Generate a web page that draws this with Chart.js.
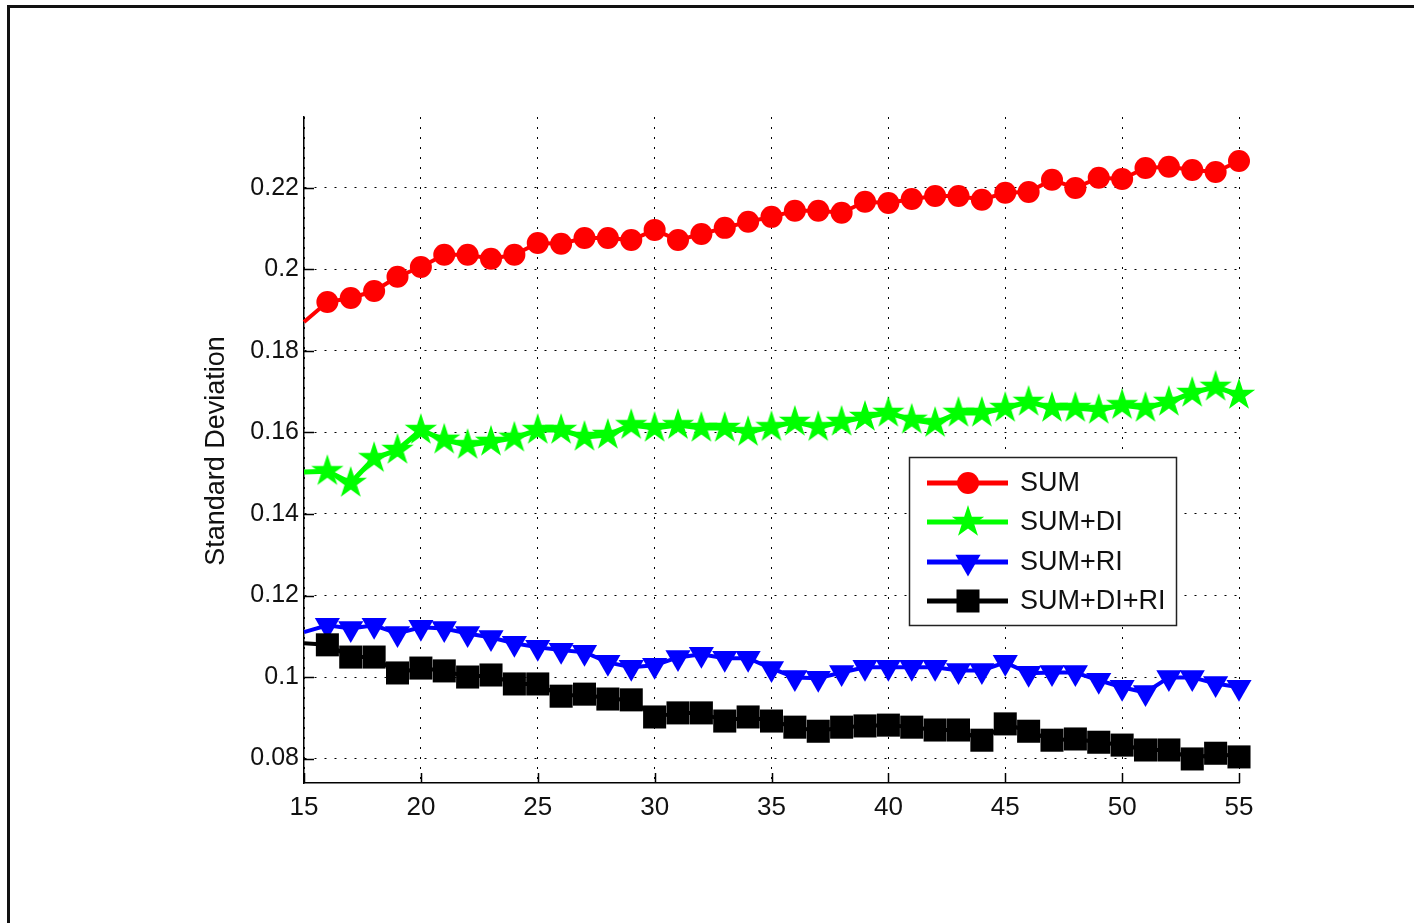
<!DOCTYPE html>
<html>
<head>
<meta charset="utf-8">
<script src="https://cdn.jsdelivr.net/npm/chart.js@4.4.1/dist/chart.umd.min.js"></script>
<style>
  html, body { margin: 0; padding: 0; background: #fff; overflow: hidden; }
  #wrap { position: relative; width: 1414px; height: 923px; }
  #frame { position: absolute; left: 7px; top: 5px; width: 1420px; height: 930px;
           border-left: 3px solid #111; border-top: 3px solid #111; pointer-events: none; }
  canvas { position: absolute; left: 0; top: 0; }
</style>
</head>
<body>
<div id="wrap">
  <canvas id="chart" width="1414" height="923"></canvas>
  <div id="frame"></div>
</div>
<script>
// ── Data ─────────────────────────────────────────────────────────────────────
const xValues = [15, 16, 17, 18, 19, 20, 21, 22, 23, 24, 25, 26, 27, 28, 29, 30, 31, 32, 33, 34, 35,
                 36, 37, 38, 39, 40, 41, 42, 43, 44, 45, 46, 47, 48, 49, 50, 51, 52, 53, 54, 55];

const sumValues = [0.1871, 0.1920, 0.1930, 0.1947, 0.1982, 0.2006, 0.2036, 0.2036, 0.2026, 0.2036, 0.2065,
                   0.2063, 0.2077, 0.2077, 0.2072, 0.2097, 0.2072, 0.2087, 0.2102, 0.2117, 0.2129,
                   0.2144, 0.2144, 0.2139, 0.2166, 0.2163, 0.2173, 0.2180, 0.2180, 0.2171, 0.2188,
                   0.2190, 0.2220, 0.2200, 0.2225, 0.2222, 0.2249, 0.2252, 0.2244, 0.2239, 0.2266];

const sumDiValues = [0.1503, 0.1505, 0.1476, 0.1537, 0.1557, 0.1606, 0.1582, 0.1569, 0.1577, 0.1587, 0.1606,
                     0.1606, 0.1589, 0.1594, 0.1618, 0.1611, 0.1618, 0.1611, 0.1611, 0.1601, 0.1613,
                     0.1626, 0.1613, 0.1626, 0.1638, 0.1648, 0.1631, 0.1623, 0.1648, 0.1648, 0.1660,
                     0.1675, 0.1660, 0.1660, 0.1655, 0.1667, 0.1660, 0.1675, 0.1697, 0.1712, 0.1692];

const sumRiValues = [0.1110, 0.1127, 0.1119, 0.1127, 0.1107, 0.1122, 0.1119, 0.1107, 0.1097, 0.1083, 0.1073,
                     0.1066, 0.1061, 0.1036, 0.1024, 0.1029, 0.1048, 0.1056, 0.1046, 0.1046, 0.1021,
                     0.0999, 0.0997, 0.1011, 0.1024, 0.1024, 0.1024, 0.1024, 0.1016, 0.1016, 0.1036,
                     0.1009, 0.1011, 0.1011, 0.0992, 0.0975, 0.0962, 0.0999, 0.0999, 0.0984, 0.0975];

const sumDiRiValues = [0.1083, 0.1079, 0.1049, 0.1049, 0.1010, 0.1022, 0.1015, 0.1000, 0.1005, 0.0983, 0.0983,
                       0.0953, 0.0958, 0.0946, 0.0944, 0.0902, 0.0912, 0.0912, 0.0892, 0.0902, 0.0892,
                       0.0877, 0.0867, 0.0877, 0.0880, 0.0882, 0.0877, 0.0870, 0.0870, 0.0845, 0.0885,
                       0.0867, 0.0845, 0.0848, 0.0840, 0.0833, 0.0821, 0.0821, 0.0799, 0.0813, 0.0804];

const seriesNames = ['SUM', 'SUM+DI', 'SUM+RI', 'SUM+DI+RI'];

const xTicks = [15, 20, 25, 30, 35, 40, 45, 50, 55];
const yTicks = [0.08, 0.10, 0.12, 0.14, 0.16, 0.18, 0.20, 0.22];
const yTickLabels = ['0.08', '0.1', '0.12', '0.14', '0.16', '0.18', '0.2', '0.22'];
const yTitle = 'Standard Deviation';

// ── Helpers ──────────────────────────────────────────────────────────────────
const FONT = '"Liberation Sans", Arial, Helvetica, sans-serif';
Chart.defaults.font.family = FONT;

function toPoints(vals) {
    return xValues.map((x, i) => ({ x, y: vals[i] }));
}

function makeStar(R, color) {
    const c = document.createElement('canvas');
    const s = Math.ceil(R * 2) + 2;
    c.width = s; c.height = s;
    const g = c.getContext('2d');
    const cx = s / 2, cy = s / 2, r = R * 0.382;
    g.beginPath();
    for (let i = 0; i < 10; i++) {
        const a = -Math.PI / 2 + i * Math.PI / 5;
        const rr = i % 2 ? r : R;
        g.lineTo(cx + rr * Math.cos(a), cy + rr * Math.sin(a));
    }
    g.closePath();
    g.fillStyle = color;
    g.fill();
    return c;
}

const starImg = makeStar(17, '#00ff00');
const noFirst = r => (ctx => ctx.dataIndex === 0 ? 0 : r);

function lineSet(label, vals, color, style, radius, rotation, order, width) {
    return {
        label,
        data: toPoints(vals),
        borderColor: color,
        backgroundColor: color,
        borderWidth: width,
        pointStyle: style,
        pointRadius: noFirst(radius),
        pointRotation: rotation,
        pointBorderWidth: 0,
        pointBackgroundColor: color,
        tension: 0,
        clip: false,
        order
    };
}

// ── Plugins: inward ticks, y title, legend ────────────────────────────────────
const decorPlugin = {
    id: 'decor',
    afterDraw(chart) {
        const { ctx, chartArea: a, scales: { x, y } } = chart;
        ctx.save();
        ctx.strokeStyle = '#000';
        ctx.lineWidth = 1.5;
        ctx.beginPath();
        xTicks.forEach(v => {
            const px = Math.round(x.getPixelForValue(v)) + 0.5;
            ctx.moveTo(px, a.bottom);
            ctx.lineTo(px, a.bottom - 10);
        });
        yTicks.forEach(v => {
            const py = Math.round(y.getPixelForValue(v)) + 0.5;
            ctx.moveTo(a.left, py);
            ctx.lineTo(a.left + 10, py);
        });
        ctx.stroke();

        // y-axis title
        ctx.fillStyle = '#111';
        ctx.font = '27px ' + FONT;
        ctx.textAlign = 'center';
        ctx.textBaseline = 'middle';
        ctx.translate(a.left - 87, (a.top + a.bottom) / 2 + 1);
        ctx.rotate(-Math.PI / 2);
        ctx.fillText(yTitle, 0, 0);
        ctx.restore();

        // legend box
        const bx = a.right - 330, by = a.top + 340, bw = 267, bh = 168;
        ctx.save();
        ctx.fillStyle = '#fff';
        ctx.fillRect(bx, by, bw, bh);
        ctx.strokeStyle = '#222';
        ctx.lineWidth = 1.5;
        ctx.strokeRect(bx + 0.5, by + 0.5, bw, bh);
        const colors = ['#ff0000', '#00ff00', '#0000ff', '#000000'];
        const rows = [26, 65, 105, 144];
        ctx.font = '27px ' + FONT;
        ctx.textAlign = 'left';
        ctx.textBaseline = 'middle';
        rows.forEach((dy, i) => {
            const yy = by + dy;
            ctx.strokeStyle = colors[i];
            ctx.fillStyle = colors[i];
            ctx.lineWidth = 5;
            ctx.beginPath();
            ctx.moveTo(bx + 18, yy);
            ctx.lineTo(bx + 99, yy);
            ctx.stroke();
            const mx = bx + 59;
            ctx.beginPath();
            if (i === 0) {
                ctx.arc(mx, yy, 11, 0, Math.PI * 2);
                ctx.fill();
            } else if (i === 1) {
                ctx.drawImage(starImg, mx - starImg.width / 2, yy - starImg.height / 2);
            } else if (i === 2) {
                const r = 14.5;
                ctx.moveTo(mx, yy + r);
                ctx.lineTo(mx - r * 0.866, yy - r / 2);
                ctx.lineTo(mx + r * 0.866, yy - r / 2);
                ctx.closePath();
                ctx.fill();
            } else {
                ctx.fillRect(mx - 11.5, yy - 11.5, 23, 23);
            }
            ctx.fillStyle = '#111';
            ctx.fillText(seriesNames[i], bx + 111, yy + 1);
        });
        ctx.restore();
    }
};

// ── Chart ─────────────────────────────────────────────────────────────────────
new Chart(document.getElementById('chart').getContext('2d'), {
    type: 'line',
    data: {
        datasets: [
            lineSet(seriesNames[0], sumValues,     '#ff0000', 'circle',   11,   0,   4, 4),
            lineSet(seriesNames[1], sumDiValues,   '#00ff00', starImg,    17,   0,   3, 5),
            lineSet(seriesNames[2], sumRiValues,   '#0000ff', 'triangle', 14.5, 180, 2, 4),
            lineSet(seriesNames[3], sumDiRiValues, '#000000', 'rect',     16.3, 0,   1, 4)
        ]
    },
    options: {
        responsive: false,
        animation: false,
        events: [],
        layout: { padding: { left: 0, top: 117, right: 175, bottom: 0 } },
        plugins: { legend: { display: false }, tooltip: { enabled: false } },
        scales: {
            x: {
                type: 'linear',
                min: 15, max: 55,
                afterBuildTicks: s => { s.ticks = xTicks.map(v => ({ value: v })); },
                afterFit: s => { s.height = 140; },
                ticks: {
                    color: '#111', font: { size: 26 }, padding: 9,
                    maxRotation: 0, autoSkip: false,
                    callback: v => String(v)
                },
                grid: { color: '#000', lineWidth: 1, drawTicks: false },
                border: { display: true, color: '#000', width: 1.5, dash: [2, 8] }
            },
            y: {
                type: 'linear',
                min: 0.074, max: 0.2374,
                afterBuildTicks: s => { s.ticks = yTicks.map(v => ({ value: v })); },
                afterFit: s => { s.width = 304; },
                ticks: {
                    color: '#111', font: { size: 25 }, padding: 5, autoSkip: false,
                    callback: (v, i) => yTickLabels[i]
                },
                grid: { color: '#000', lineWidth: 1, drawTicks: false },
                border: { display: true, color: '#000', width: 1.5, dash: [2, 8] }
            }
        }
    },
    plugins: [decorPlugin]
});
</script>
</body>
</html>
